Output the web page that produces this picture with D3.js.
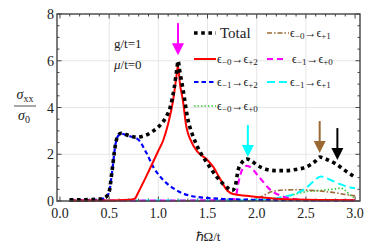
<!doctype html>
<html lang="en">
<head>
<meta charset="utf-8">
<title>sigma_xx</title>
<script src="https://d3js.org/d3.v7.min.js"></script>
<style>
  body { margin: 0; background: #fff; }
  text { font-family: 'Liberation Serif', serif; }
</style>
</head>
<body>
<div class="chart-container"></div>
<script>
  // x ticks and y ticks
  const xTicks = [0, 0.5, 1.0, 1.5, 2.0, 2.5, 3.0];
  const yTicks = [0, 2, 4, 6, 8];

  // Total
  const totalX = [0.1, 0.2, 0.3, 0.4, 0.46, 0.5, 0.53, 0.56, 0.58, 0.62, 0.7, 0.78, 0.85, 0.95, 1.03, 1.08, 1.12, 1.16, 1.19, 1.2, 1.22, 1.25, 1.3, 1.35, 1.4, 1.5, 1.6, 1.68, 1.75, 1.78, 1.81, 1.85, 1.9, 1.95, 2.0, 2.1, 2.2, 2.3, 2.4, 2.5, 2.6, 2.64, 2.7, 2.8, 2.9, 3.0];
  const totalY = [0.05, 0.05, 0.06, 0.08, 0.15, 0.4, 1.3, 2.3, 2.7, 2.9, 2.8, 2.73, 2.78, 3.0, 3.3, 3.6, 4.0, 4.8, 5.7, 6.0, 5.5, 4.8, 3.5, 2.8, 2.3, 1.6, 1.0, 0.65, 0.45, 0.6, 1.3, 1.65, 1.8, 1.7, 1.55, 1.35, 1.3, 1.3, 1.35, 1.45, 1.72, 1.88, 1.8, 1.6, 1.3, 1.02];

  // e-0 -> e+2 (red)
  const redX = [0.1, 0.5, 0.7, 0.76, 0.8, 0.9, 1.0, 1.05, 1.1, 1.15, 1.18, 1.2, 1.22, 1.25, 1.28, 1.34, 1.4, 1.5, 1.56, 1.62, 1.7, 1.76, 1.9, 2.0, 2.2, 2.4, 2.7, 3.0];
  const redY = [0.02, 0.02, 0.05, 0.1, 0.4, 1.25, 2.15, 2.6, 3.3, 4.3, 5.2, 5.8, 5.0, 4.3, 3.3, 2.5, 2.1, 1.75, 1.45, 1.0, 0.45, 0.3, 0.22, 0.17, 0.1, 0.06, 0.04, 0.03];

  // e-1 -> e+2 (blue)
  const blueX = [0.1, 0.3, 0.45, 0.5, 0.53, 0.56, 0.58, 0.62, 0.7, 0.79, 0.88, 0.95, 1.05, 1.15, 1.3, 1.5, 1.7, 2.0, 2.5, 3.0];
  const blueY = [0.03, 0.04, 0.1, 0.38, 1.25, 2.3, 2.7, 2.88, 2.78, 2.65, 2.05, 1.45, 0.9, 0.55, 0.25, 0.13, 0.08, 0.05, 0.03, 0.02];

  // e-1 -> e+0 (magenta)
  const magX = [0.1, 1.0, 1.7, 1.78, 1.82, 1.86, 1.9, 1.95, 2.0, 2.06, 2.12, 2.17, 2.25, 2.35, 2.5, 3.0];
  const magY = [0.02, 0.02, 0.03, 0.1, 0.9, 1.4, 1.5, 1.4, 1.15, 0.85, 0.55, 0.38, 0.22, 0.1, 0.04, 0.02];

  // e-1 -> e+1 (cyan)
  const cyanX = [0.1, 1.8, 2.0, 2.1, 2.2, 2.3, 2.4, 2.5, 2.58, 2.65, 2.75, 2.85, 2.95, 3.0];
  const cyanY = [0.02, 0.02, 0.05, 0.08, 0.12, 0.2, 0.32, 0.55, 0.85, 1.05, 0.9, 0.72, 0.58, 0.55];

  // e-0 -> e+1 (brown)
  const brownX = [0.1, 1.9, 1.97, 2.04, 2.1, 2.14, 2.2, 2.27, 2.4, 2.5, 2.6, 2.7, 2.8, 2.9, 3.0];
  const brownY = [0, 0, 0.05, 0.17, 0.3, 0.38, 0.44, 0.47, 0.48, 0.47, 0.44, 0.4, 0.35, 0.28, 0.22];

  // e-0 -> e+0 (green)
  const greenX = [0.1, 2.0, 2.1, 2.2, 2.3, 2.4, 2.5, 2.6, 2.7, 2.8, 2.85, 2.9, 2.95, 3.0];
  const greenY = [0, 0.01, 0.03, 0.08, 0.18, 0.3, 0.4, 0.44, 0.47, 0.52, 0.55, 0.45, 0.25, 0.12];

  // arrows: x position, tip y
  const arrowX = [1.2, 1.91, 2.64, 2.82];
  const arrowTipY = [6.24, 1.88, 2.05, 1.75];
  const arrowColors = ['#ff00ff', '#00ffff', '#9b6a34', '#000000'];

  const width = 374, height = 249;
  const margin = { top: 14, right: 14, bottom: 48, left: 57 };

  const svg = d3.select('.chart-container').append('svg')
    .attr('width', width)
    .attr('height', height);

  const x = d3.scaleLinear().domain([-0.03, 3.05]).range([margin.left, width - margin.right]);
  const y = d3.scaleLinear().domain([0, 8]).range([height - margin.bottom, margin.top]);

  const x0 = margin.left, x1 = width - margin.right;
  const y0 = height - margin.bottom, y1 = margin.top;

  // grid
  svg.append('g').selectAll('line.gx')
    .data(xTicks.filter(d => d > 0 && d < 3))
    .enter().append('line')
    .attr('x1', d => x(d)).attr('x2', d => x(d))
    .attr('y1', y0).attr('y2', y1)
    .style('stroke', '#e6e6e6').style('stroke-width', 1);
  svg.append('g').selectAll('line.gy')
    .data(yTicks.filter(d => d > 0 && d < 8))
    .enter().append('line')
    .attr('x1', x0).attr('x2', x1)
    .attr('y1', d => y(d)).attr('y2', d => y(d))
    .style('stroke', '#e6e6e6').style('stroke-width', 1);

  // ticks (inward on all four sides)
  const axisColor = '#444';
  const minorX = d3.range(0, 3.05, 0.1).filter(v => Math.abs(v * 2 - Math.round(v * 2)) > 1e-6);
  const minorY = d3.range(0, 8.01, 0.5).filter(v => Math.abs(v / 2 - Math.round(v / 2)) > 1e-6);
  const tickG = svg.append('g').style('stroke', axisColor).style('stroke-width', 1);
  [[y0, -1], [y1, 1]].forEach(([yy, dir]) => {
    xTicks.forEach(v => tickG.append('line').attr('x1', x(v)).attr('x2', x(v)).attr('y1', yy).attr('y2', yy + dir * 4.5));
    minorX.forEach(v => tickG.append('line').attr('x1', x(v)).attr('x2', x(v)).attr('y1', yy).attr('y2', yy + dir * 2.5));
  });
  [[x0, 1], [x1, -1]].forEach(([xx, dir]) => {
    yTicks.forEach(v => tickG.append('line').attr('y1', y(v)).attr('y2', y(v)).attr('x1', xx).attr('x2', xx + dir * 4.5));
    minorY.forEach(v => tickG.append('line').attr('y1', y(v)).attr('y2', y(v)).attr('x1', xx).attr('x2', xx + dir * 2.5));
  });

  const textColor = '#222';

  // tick labels
  svg.append('g').selectAll('text')
    .data(xTicks).enter().append('text')
    .attr('x', d => x(d)).attr('y', y0 + 17)
    .style('text-anchor', 'middle').style('font-size', '14px').style('fill', textColor)
    .text(d => d3.format('.1f')(d));
  svg.append('g').selectAll('text')
    .data(yTicks).enter().append('text')
    .attr('x', x0 - 3).attr('y', d => y(d) + 5)
    .style('text-anchor', 'end').style('font-size', '14px').style('fill', textColor)
    .text(d => d);

  // axis titles
  svg.append('text')
    .attr('x', 208).attr('y', 241)
    .style('text-anchor', 'middle').style('font-size', '13px').style('fill', textColor)
    .text('ℏΩ/t');

  const yl = svg.append('g').style('fill', textColor);
  const num = yl.append('text').attr('x', 25).attr('y', 99).style('text-anchor', 'middle').style('font-size', '14px');
  num.append('tspan').style('font-style', 'italic').text('σ');
  num.append('tspan').attr('dy', 3).style('font-size', '10px').text('xx');
  yl.append('line').attr('x1', 14).attr('x2', 36).attr('y1', 106).attr('y2', 106)
    .style('stroke', '#222').style('stroke-width', 0.8);
  const den = yl.append('text').attr('x', 24).attr('y', 120).style('text-anchor', 'middle').style('font-size', '14px');
  den.append('tspan').style('font-style', 'italic').text('σ');
  den.append('tspan').attr('dy', 3).style('font-size', '10px').text('0');

  // annotations
  svg.append('text').attr('x', 114).attr('y', 48).style('font-size', '13px').style('fill', textColor).text('g/t=1');
  const mu = svg.append('text').attr('x', 114).attr('y', 69).style('font-size', '13px').style('fill', textColor);
  mu.append('tspan').style('font-style', 'italic').text('μ');
  mu.append('tspan').text('/t=0');

  // curves
  const series = [
    { xs: greenX, ys: greenY, color: '#33cc33', w: 1.6, dash: '1.5 2' },
    { xs: brownX, ys: brownY, color: '#9b6a34', w: 1.6, dash: '5 2 1.5 2' },
    { xs: cyanX, ys: cyanY, color: '#00ffff', w: 2, dash: '8 4' },
    { xs: magX, ys: magY, color: '#ff00ff', w: 2.2, dash: '6 4' },
    { xs: blueX, ys: blueY, color: '#0000ff', w: 2.2, dash: '4.5 3' },
    { xs: redX, ys: redY, color: '#ff0000', w: 2, dash: null },
    { xs: totalX, ys: totalY, color: '#000000', w: 3.6, dash: '3.6 3.6' }
  ];

  const line = d3.line()
    .x(d => x(d[0]))
    .y(d => y(d[1]))
    .curve(d3.curveMonotoneX);

  svg.append('g').selectAll('path')
    .data(series).enter().append('path')
    .attr('d', s => line(s.xs.map((v, i) => [v, s.ys[i]])))
    .style('fill', 'none')
    .style('stroke', s => s.color)
    .style('stroke-width', s => s.w)
    .style('stroke-dasharray', s => s.dash);

  // frame
  svg.append('rect')
    .attr('x', x0).attr('y', y1)
    .attr('width', x1 - x0).attr('height', y0 - y1)
    .style('fill', 'none').style('stroke', axisColor).style('stroke-width', 1.4);

  // arrows
  arrowX.forEach((ax, i) => {
    const px = x(ax), tip = y(arrowTipY[i]);
    const g = svg.append('g').style('fill', arrowColors[i]).style('stroke', arrowColors[i]);
    g.append('line').attr('x1', px).attr('x2', px).attr('y1', tip - 32).attr('y2', tip - 10)
      .style('stroke-width', 2);
    g.append('path')
      .attr('d', `M${px - 6},${tip - 12} L${px + 6},${tip - 12} L${px},${tip} Z`)
      .style('stroke', 'none');
  });

  // legend
  const legendItems = [
    { label: 'Total', col: 0, row: 0, color: '#000', w: 3.6, dash: '3.6 3.6' },
    { label: ['0', '1'], col: 1, row: 0, color: '#9b6a34', w: 1.6, dash: '5 2 1.5 2' },
    { label: ['0', '2'], col: 0, row: 1, color: '#ff0000', w: 2, dash: null },
    { label: ['1', '0'], col: 1, row: 1, color: '#ff00ff', w: 2.2, dash: '6 4' },
    { label: ['1', '2'], col: 0, row: 2, color: '#0000ff', w: 2.2, dash: '4.5 3' },
    { label: ['1', '1'], col: 1, row: 2, color: '#00ffff', w: 2, dash: '8 4' },
    { label: ['0', '0'], col: 0, row: 3, color: '#33cc33', w: 1.6, dash: '1.5 2' }
  ];
  const legendG = svg.append('g').style('fill', textColor);
  legendItems.forEach(d => {
    const lx = d.col === 0 ? 194 : 267;
    const ly = [33, 59, 82, 106][d.row];
    const sw = (d.col === 1 && d.row === 1) ? 16 : 22;
    legendG.append('line')
      .attr('x1', lx).attr('x2', lx + sw).attr('y1', ly).attr('y2', ly)
      .style('stroke', d.color).style('stroke-width', d.w)
      .style('stroke-dasharray', d.dash);
    const tx = lx + sw + (d.col === 1 && d.row === 1 ? 9 : 1);
    if (typeof d.label === 'string') {
      legendG.append('text').attr('x', tx + 3).attr('y', ly + 5)
        .style('font-size', '15px').text(d.label);
    } else {
      const t = legendG.append('text').attr('x', tx).attr('y', ly + 3.5).style('font-size', '12px');
      t.append('tspan').text('ϵ');
      t.append('tspan').attr('dy', 2.5).style('font-size', '9px').text('−' + d.label[0]);
      t.append('tspan').attr('dy', -2.5).text('→ϵ');
      t.append('tspan').attr('dy', 2.5).style('font-size', '9px').text('+' + d.label[1]);
    }
  });
</script>
</body>
</html>
